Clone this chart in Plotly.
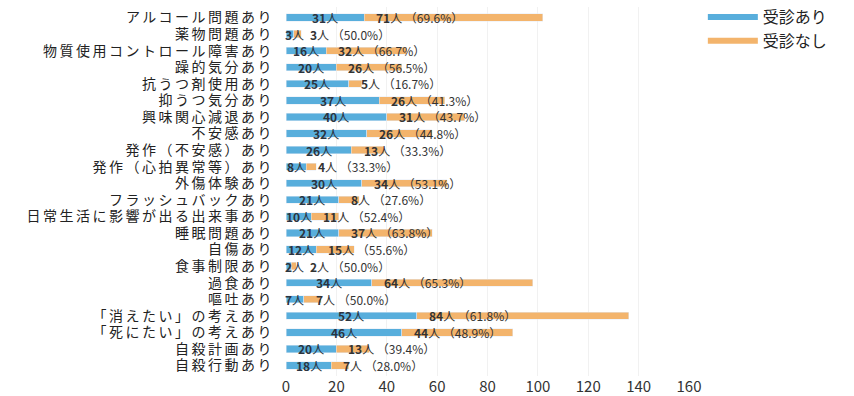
import plotly.graph_objects as go

categories = [
    "アルコール問題あり", "薬物問題あり", "物質使用コントロール障害あり", "躁的気分あり",
    "抗うつ剤使用あり", "抑うつ気分あり", "興味関心減退あり", "不安感あり",
    "発作（不安感）あり", "発作（心拍異常等）あり", "外傷体験あり", "フラッシュバックあり",
    "日常生活に影響が出る出来事あり", "睡眠問題あり", "自傷あり", "食事制限あり",
    "過食あり", "嘔吐あり", "「消えたい」の考えあり", "「死にたい」の考えあり",
    "自殺計画あり", "自殺行動あり",
]
with_visit = [31, 3, 16, 20, 25, 37, 40, 32, 26, 8, 30, 21, 10, 21, 12, 2, 34, 7, 52, 46, 20, 18]
without_visit = [71, 3, 32, 26, 5, 26, 31, 26, 13, 4, 34, 8, 11, 37, 15, 2, 64, 7, 84, 44, 13, 7]
pct_without = ["69.6%", "50.0%", "66.7%", "56.5%", "16.7%", "41.3%", "43.7%", "44.8%",
               "33.3%", "33.3%", "53.1%", "27.6%", "52.4%", "63.8%", "55.6%", "50.0%",
               "65.3%", "50.0%", "61.8%", "48.9%", "39.4%", "28.0%"]
x_ticks = [0, 20, 40, 60, 80, 100, 120, 140, 160]
series_names = ["受診あり", "受診なし"]

BLUE = "#58AEDC"
ORANGE = "#F3B46C"
FONT = "Noto Sans CJK JP"

fig = go.Figure()
fig.add_trace(go.Bar(y=categories, x=with_visit, orientation="h", marker_color=BLUE,
                     width=0.44, showlegend=False, hoverinfo="x+y"))
fig.add_trace(go.Bar(y=categories, x=without_visit, orientation="h", marker_color=ORANGE,
                     width=0.44, showlegend=False, hoverinfo="x+y"))

# legend via line traces
for i, (name, col) in enumerate(zip(series_names, [BLUE, ORANGE])):
    fig.add_trace(go.Scatter(x=[None], y=[None], mode="lines", name=name,
                             legendgroup=f"g{i}",
                             line=dict(color=col, width=6)))

for c, a, b, p in zip(categories, with_visit, without_visit, pct_without):
    cx = max(a / 2, 3.4)
    ox = max(a + 4, cx + 5.5)
    fig.add_annotation(x=cx, y=c, text=f"<b>{a}</b>人", showarrow=False,
                       font=dict(family=FONT, size=12, color="#2b3440"),
                       xanchor="center", yanchor="middle")
    fig.add_annotation(x=ox, y=c, text=f"<b>{b}</b>人 （{p}）", showarrow=False,
                       font=dict(family=FONT, size=12, color="#333333"),
                       xanchor="left", yanchor="middle")

tick_text = [f'<span style="letter-spacing:2.5px">{c}</span>' for c in categories]

fig.update_layout(
    width=854, height=396,
    margin=dict(l=286, r=165, t=7, b=20, autoexpand=False),
    paper_bgcolor="white", plot_bgcolor="white",
    barmode="stack", bargap=0.5,
    font=dict(family=FONT, size=13, color="#222222"),
    legend=dict(xref="container", yref="container", x=0.823, y=1.0,
                xanchor="left", yanchor="top", traceorder="normal",
                font=dict(family=FONT, size=16, color="#222222"),
                itemwidth=50, tracegroupgap=8, bgcolor="rgba(0,0,0,0)"),
    xaxis=dict(range=[0, 160], tickvals=x_ticks, showgrid=True, gridcolor="#f1f1f1",
               zeroline=False, showline=False, ticks="", automargin=False,
               tickfont=dict(family=FONT, size=15, color="#333333")),
    yaxis=dict(autorange="reversed", showgrid=False, ticks="", ticklen=0,
               tickmode="array", tickvals=categories, ticktext=tick_text,
               ticklabelstandoff=11, automargin=False,
               tickfont=dict(family=FONT, size=14, color="#222222")),
)

fig.write_html("out.html")
